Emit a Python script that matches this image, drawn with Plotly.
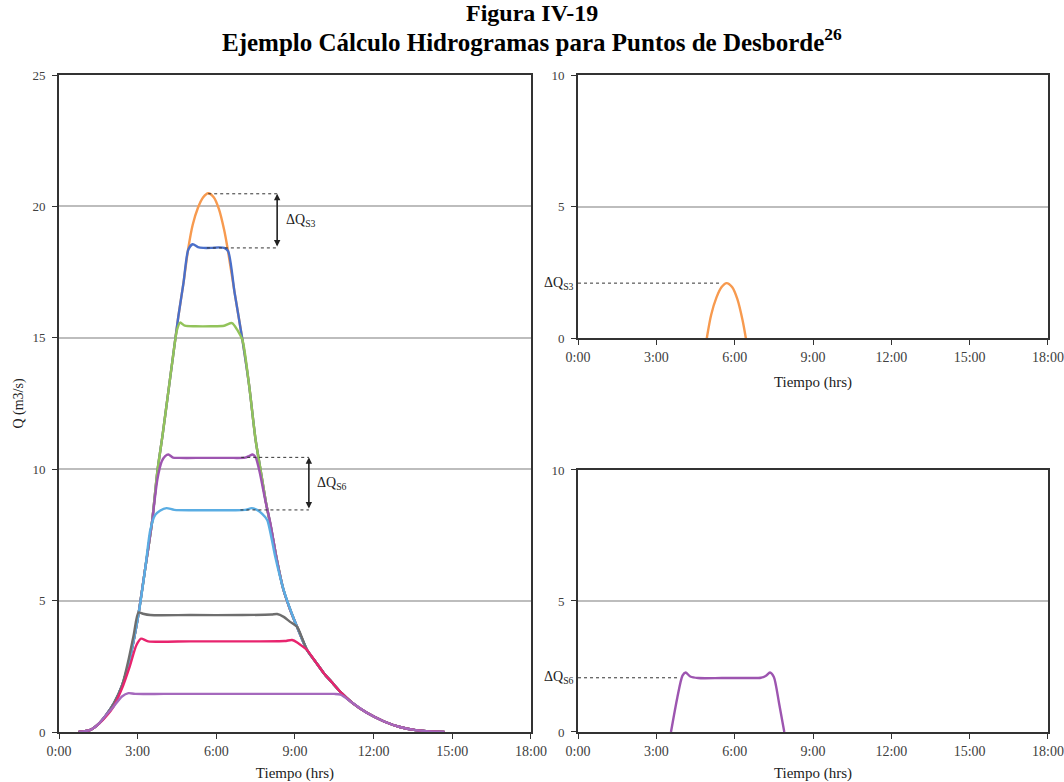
import plotly.graph_objects as go

# ---------------- data (time in hours, Q in m3/s) ----------------
t_orange = [0.75, 1.2, 1.5, 1.8, 2.1, 2.4, 2.7, 3.0, 3.3, 3.55, 3.75, 3.95, 4.15, 4.35, 4.55, 4.75, 4.93, 5.1, 5.3, 5.5, 5.69,
            5.9, 6.1, 6.3, 6.43, 6.7, 7.0, 7.25, 7.5, 7.7, 7.9, 8.1, 8.3, 8.55, 8.8, 9.08, 9.46, 9.8, 10.1, 10.4, 10.74,
            11.2, 11.76, 12.4, 13.0, 13.6, 14.2, 14.7]
q_orange = [0, 0.08, 0.3, 0.65, 1.1, 1.75, 2.8, 4.3, 6.3, 8.0, 9.9, 11.3, 12.8, 14.3, 15.8, 17.1, 18.4, 19.3, 19.95, 20.35, 20.5,
            20.35, 19.9, 19.1, 18.4, 16.7, 14.9, 13.2, 11.1, 9.9, 8.7, 7.7, 6.6, 5.45, 4.7, 4.0, 3.12, 2.65, 2.24, 1.9, 1.52,
            1.1, 0.72, 0.4, 0.19, 0.07, 0.02, 0]

t_blue = [0.75, 1.2, 1.5, 1.8, 2.1, 2.4, 2.7, 3.0, 3.3, 3.55, 3.75, 3.95, 4.15, 4.35, 4.55, 4.75, 4.93, 5.1, 5.3, 5.5, 5.8,
          6.1, 6.3, 6.45, 6.7, 7.0, 7.25, 7.5, 7.7, 7.9, 8.1, 8.3, 8.55, 8.8, 9.08, 9.46, 9.8, 10.1, 10.4, 10.74,
          11.2, 11.76, 12.4, 13.0, 13.6, 14.2, 14.7]
q_blue = [0, 0.08, 0.3, 0.65, 1.1, 1.75, 2.8, 4.3, 6.3, 8.0, 9.9, 11.3, 12.8, 14.3, 15.8, 17.1, 18.35, 18.56, 18.45, 18.42, 18.42,
          18.44, 18.42, 18.3, 16.7, 14.9, 13.2, 11.1, 9.9, 8.7, 7.7, 6.6, 5.45, 4.7, 4.0, 3.12, 2.65, 2.24, 1.9, 1.52,
          1.1, 0.72, 0.4, 0.19, 0.07, 0.02, 0]

t_green = [0.75, 1.2, 1.5, 1.8, 2.1, 2.4, 2.7, 3.0, 3.3, 3.55, 3.75, 3.95, 4.15, 4.35, 4.5, 4.62, 4.8, 5.2, 5.8, 6.3,
           6.6, 6.8, 7.0, 7.25, 7.5, 7.7, 7.9, 8.1, 8.3, 8.55, 8.8, 9.08, 9.46, 9.8, 10.1, 10.4, 10.74,
           11.2, 11.76, 12.4, 13.0, 13.6, 14.2, 14.7]
q_green = [0, 0.08, 0.3, 0.65, 1.1, 1.75, 2.8, 4.3, 6.3, 8.0, 9.9, 11.3, 12.8, 14.3, 15.3, 15.58, 15.46, 15.44, 15.44, 15.46,
           15.56, 15.3, 14.9, 13.2, 11.1, 9.9, 8.7, 7.7, 6.6, 5.45, 4.7, 4.0, 3.12, 2.65, 2.24, 1.9, 1.52,
           1.1, 0.72, 0.4, 0.19, 0.07, 0.02, 0]

t_purple = [0.75, 1.2, 1.5, 1.8, 2.1, 2.4, 2.7, 3.0, 3.3, 3.55, 3.75, 3.92, 4.05, 4.17, 4.35, 4.6, 5.5, 6.5, 7.1,
            7.25, 7.38, 7.5, 7.65, 7.87, 8.06, 8.3, 8.55, 8.8, 9.08, 9.46, 9.8, 10.1, 10.4, 10.74,
            11.2, 11.76, 12.4, 13.0, 13.6, 14.2, 14.7]
q_purple = [0, 0.08, 0.3, 0.65, 1.1, 1.75, 2.8, 4.3, 6.3, 8.0, 9.6, 10.3, 10.5, 10.56, 10.44, 10.43, 10.43, 10.43, 10.44,
            10.5, 10.56, 10.45, 9.9, 8.8, 7.95, 6.6, 5.45, 4.7, 4.0, 3.12, 2.65, 2.24, 1.9, 1.52,
            1.1, 0.72, 0.4, 0.19, 0.07, 0.02, 0]

t_lblue = [0.75, 1.2, 1.5, 1.8, 2.1, 2.4, 2.7, 3.0, 3.1, 3.3, 3.48, 3.67, 3.85, 4.1, 4.4, 5.5, 6.5, 7.1, 7.35, 7.55,
           7.75, 7.94, 8.1, 8.25, 8.57, 8.83, 9.08, 9.46, 9.8, 10.1, 10.4, 10.74,
           11.2, 11.76, 12.4, 13.0, 13.6, 14.2, 14.7]
q_lblue = [0, 0.08, 0.3, 0.65, 1.1, 1.75, 2.8, 4.3, 4.9, 6.3, 7.68, 8.26, 8.42, 8.52, 8.45, 8.44, 8.44, 8.45, 8.52, 8.45,
           8.3, 8.07, 7.4, 6.66, 5.4, 4.64, 4.0, 3.12, 2.65, 2.24, 1.9, 1.52,
           1.1, 0.72, 0.4, 0.19, 0.07, 0.02, 0]

t_gray = [0.75, 1.2, 1.5, 1.8, 2.1, 2.4, 2.65, 2.85, 3.03, 3.2, 3.48, 5.0, 7.0, 8.1, 8.32, 8.57, 8.8, 9.08, 9.3, 9.46,
          9.8, 10.1, 10.4, 10.74, 11.2, 11.76, 12.4, 13.0, 13.6, 14.2, 14.7]
q_gray = [0, 0.08, 0.3, 0.65, 1.1, 1.75, 2.74, 3.7, 4.55, 4.5, 4.45, 4.45, 4.45, 4.47, 4.49, 4.38, 4.2, 4.0, 3.5, 3.12,
          2.65, 2.24, 1.9, 1.52, 1.1, 0.72, 0.4, 0.19, 0.07, 0.02, 0]

t_pink = [0.75, 1.2, 1.55, 1.8, 2.07, 2.4, 2.7, 2.95, 3.13, 3.4, 5.0, 7.0, 8.6, 8.89, 9.1, 9.3, 9.46,
          9.8, 10.1, 10.4, 10.74, 11.2, 11.76, 12.4, 13.0, 13.6, 14.2, 14.7]
q_pink = [0, 0.08, 0.34, 0.6, 0.95, 1.65, 2.5, 3.3, 3.55, 3.45, 3.45, 3.45, 3.46, 3.5, 3.4, 3.25, 3.12,
          2.65, 2.24, 1.9, 1.52, 1.1, 0.72, 0.4, 0.19, 0.07, 0.02, 0]

t_plow = [0.75, 1.2, 1.5, 1.8, 2.07, 2.4, 2.65, 2.9, 4.0, 6.0, 8.0, 10.0, 10.5, 10.74, 11.2, 11.76, 12.4, 13.0, 13.6, 14.2, 14.7]
q_plow = [0, 0.08, 0.3, 0.65, 0.95, 1.35, 1.48, 1.45, 1.45, 1.45, 1.45, 1.45, 1.45, 1.42, 1.1, 0.72, 0.4, 0.19, 0.07, 0.02, 0]

# right-top: excess over S3 capacity
t_dq3 = [4.93, 5.1, 5.3, 5.5, 5.69, 5.9, 6.1, 6.3, 6.43]
q_dq3 = [0, 0.9, 1.55, 1.95, 2.1, 1.95, 1.5, 0.7, 0]
# right-bottom: excess over S6 capacity
t_dq6 = [3.56, 3.8, 4.0, 4.12, 4.3, 4.6, 5.5, 6.5, 7.0, 7.2, 7.35, 7.5, 7.7, 7.9]
q_dq6 = [0, 1.3, 2.15, 2.27, 2.12, 2.06, 2.06, 2.06, 2.07, 2.15, 2.27, 2.1, 1.1, 0]

dq3_level, dq6_level = 2.1, 2.07
s3_hi, s3_lo = 20.48, 18.42
s6_hi, s6_lo = 10.45, 8.45

x_ticks = [0, 3, 6, 9, 12, 15, 18]
x_ticktext = ["0:00", "3:00", "6:00", "9:00", "12:00", "15:00", "18:00"]

# ---------------- figure ----------------
fig = go.Figure()
FONT = "Liberation Serif, Times New Roman, serif"

left_series = [
    (t_orange, q_orange, "#F79A4F"),
    (t_blue, q_blue, "#4A6FC9"),
    (t_green, q_green, "#92C35A"),
    (t_purple, q_purple, "#9D55B0"),
    (t_lblue, q_lblue, "#5AADE3"),
    (t_gray, q_gray, "#6E6E6E"),
    (t_pink, q_pink, "#E8246E"),
    (t_plow, q_plow, "#A569BD"),
]
for t, q, c in left_series:
    fig.add_trace(go.Scatter(x=t, y=q, mode="lines", line=dict(color=c, width=2.4, shape="spline", smoothing=0.7),
                             xaxis="x", yaxis="y", showlegend=False, hoverinfo="skip"))

fig.add_trace(go.Scatter(x=t_dq3, y=q_dq3, mode="lines", line=dict(color="#F79A4F", width=2.4, shape="spline", smoothing=0.8),
                         xaxis="x2", yaxis="y2", showlegend=False))
fig.add_trace(go.Scatter(x=t_dq6, y=q_dq6, mode="lines", line=dict(color="#9D55B0", width=2.4, shape="spline", smoothing=0.7),
                         xaxis="x3", yaxis="y3", showlegend=False))

axis_common = dict(showline=True, linecolor="#333333", linewidth=2, mirror=True, ticks="outside", ticklen=5,
                   tickcolor="#333333", zeroline=False, automargin=False)
x_common = dict(axis_common, range=[0, 18], tickvals=x_ticks, ticktext=x_ticktext, showgrid=False,
                tickfont=dict(family=FONT, size=14, color="#404040"),
                title=dict(text="Tiempo (hrs)", font=dict(family=FONT, size=15, color="#222222"), standoff=12))
y_common = dict(axis_common, showgrid=True, gridcolor="#BDBDBD", gridwidth=1.5, ticklabelstandoff=4,
                tickfont=dict(family=FONT, size=13, color="#404040"))

fig.update_layout(
    width=1064, height=782,
    margin=dict(l=59, r=16, t=75, b=50),
    paper_bgcolor="white", plot_bgcolor="white",
    xaxis=dict(x_common, domain=[0, 0.4772], anchor="y"),
    yaxis=dict(y_common, domain=[0, 1], range=[0, 25], tickvals=[0, 5, 10, 15, 20, 25], anchor="x",
               title=dict(text="Q (m3/s)", font=dict(family=FONT, size=14, color="#222222"), standoff=6)),
    xaxis2=dict(x_common, domain=[0.5248, 1], anchor="y2"),
    yaxis2=dict(y_common, domain=[0.599, 1], range=[0, 10], tickvals=[0, 5, 10], anchor="x2"),
    xaxis3=dict(x_common, domain=[0.5248, 1], anchor="y3"),
    yaxis3=dict(y_common, domain=[0, 0.3988], range=[0, 10], tickvals=[0, 5, 10], anchor="x3"),
)

dot = dict(color="#333333", width=1, dash="dot")
shapes = [
    dict(type="line", xref="x", yref="y", x0=5.69, x1=8.32, y0=s3_hi, y1=s3_hi, line=dot),
    dict(type="line", xref="x", yref="y", x0=5.64, x1=8.32, y0=s3_lo, y1=s3_lo, line=dot),
    dict(type="line", xref="x", yref="y", x0=6.95, x1=9.53, y0=s6_hi, y1=s6_hi, line=dot),
    dict(type="line", xref="x", yref="y", x0=6.92, x1=9.53, y0=s6_lo, y1=s6_lo, line=dot),
    dict(type="line", xref="x2", yref="y2", x0=0, x1=5.5, y0=dq3_level, y1=dq3_level, line=dot),
    dict(type="line", xref="x3", yref="y3", x0=0, x1=3.9, y0=dq6_level, y1=dq6_level, line=dot),
]
fig.update_layout(shapes=shapes)

ann = []
# vertical double arrows
for xa, ylo, yhi in [(8.32, s3_lo, s3_hi), (9.53, s6_lo, s6_hi)]:
    ann.append(dict(x=xa, y=yhi, ax=xa, ay=ylo, xref="x", yref="y", axref="x", ayref="y", text="",
                    showarrow=True, arrowhead=2, arrowside="end+start", arrowsize=0.8, arrowwidth=1.6,
                    arrowcolor="#222222", standoff=0, startstandoff=0))
lbl_font = dict(family=FONT, size=14, color="#222222")
ann.append(dict(x=8.6, y=19.45, xref="x", yref="y", text="ΔQ<sub>S3</sub>", showarrow=False,
                xanchor="left", yanchor="middle", font=lbl_font))
ann.append(dict(x=9.78, y=9.45, xref="x", yref="y", text="ΔQ<sub>S6</sub>", showarrow=False,
                xanchor="left", yanchor="middle", font=lbl_font))
ann.append(dict(x=0, y=dq3_level, xref="x2", yref="y2", text="ΔQ<sub>S3</sub>", showarrow=False,
                xanchor="right", yanchor="middle", xshift=-2, font=lbl_font))
ann.append(dict(x=0, y=dq6_level, xref="x3", yref="y3", text="ΔQ<sub>S6</sub>", showarrow=False,
                xanchor="right", yanchor="middle", xshift=-2, font=lbl_font))
# title
ann.append(dict(x=0.4783, y=1 + (75 - 13) / 657, xref="paper", yref="paper", text="<b>Figura IV-19</b>", showarrow=False,
                xanchor="center", yanchor="middle", font=dict(family=FONT, size=24, color="black")))
ann.append(dict(x=0.4783, y=1 + (75 - 40) / 657, xref="paper", yref="paper",
                text="<b>Ejemplo Cálculo Hidrogramas para Puntos de Desborde<sup>26</sup></b>", showarrow=False,
                xanchor="center", yanchor="middle", font=dict(family=FONT, size=25, color="black")))
fig.update_layout(annotations=ann)

fig.write_html("out.html")
